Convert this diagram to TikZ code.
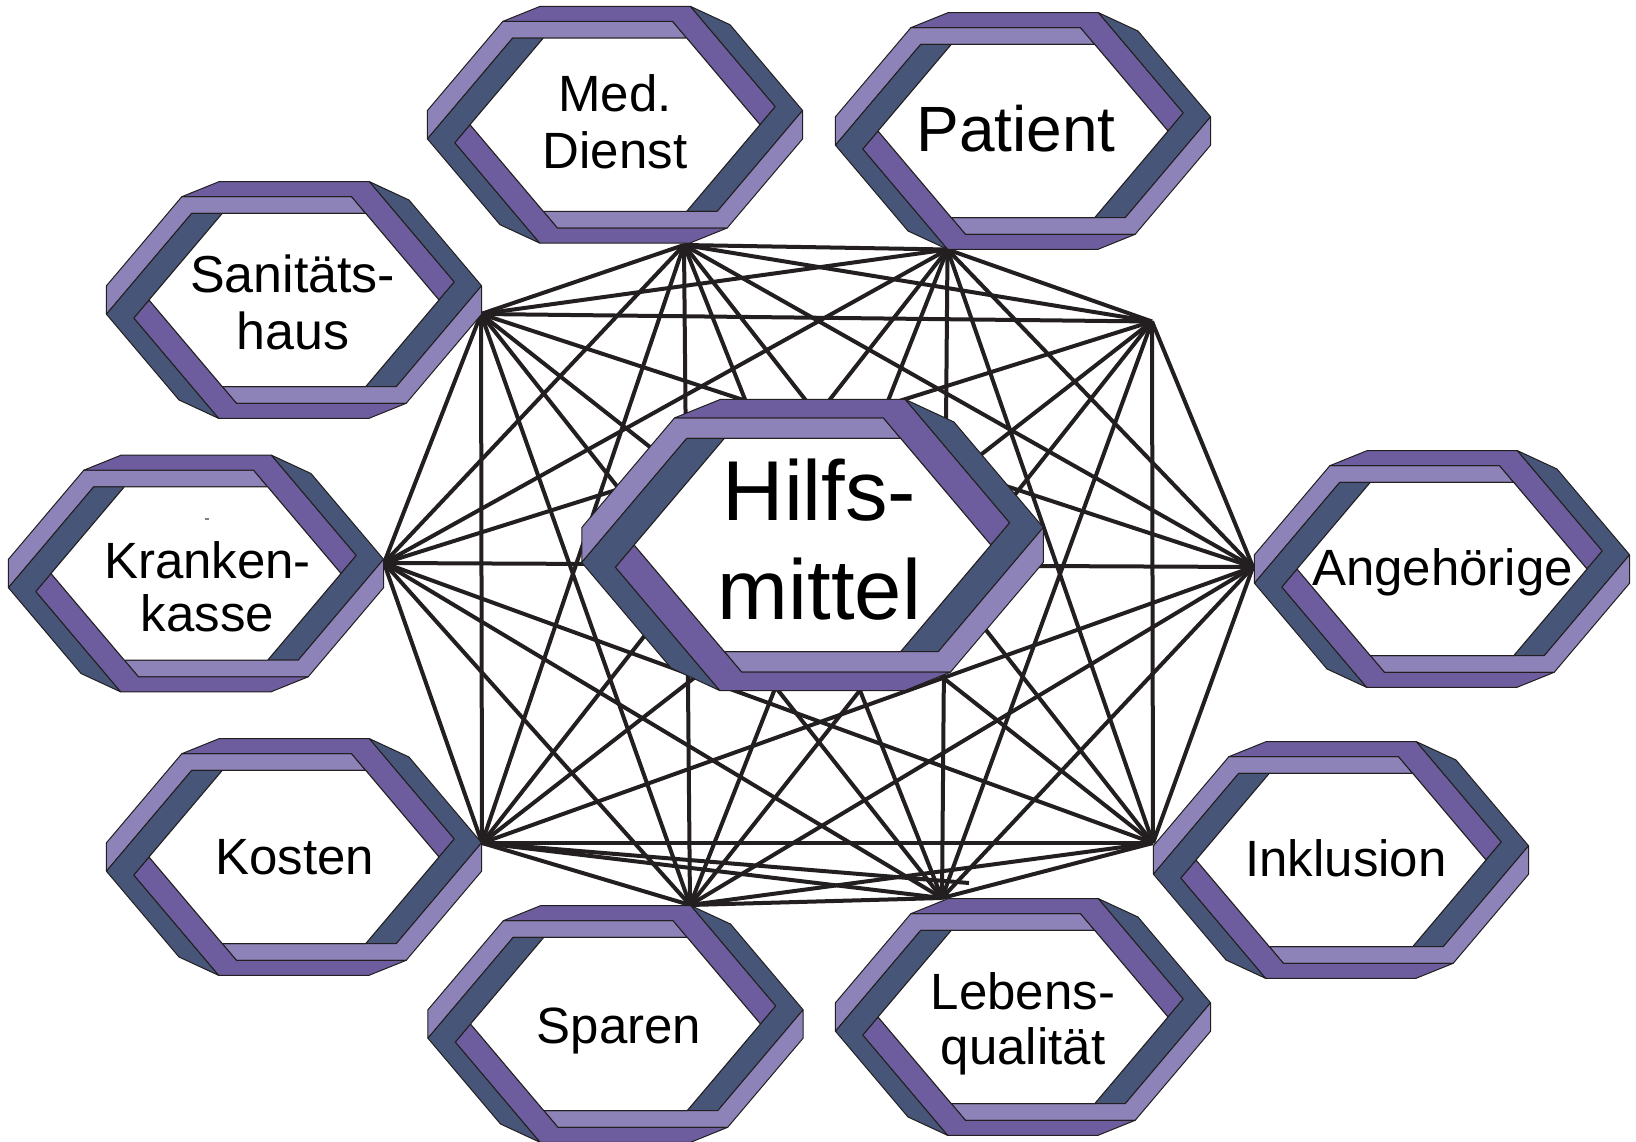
\documentclass[tikz,border=0pt]{standalone}
\usepackage{fontspec}
\setmainfont{Liberation Sans}
\definecolor{lp}{RGB}{142,131,184}
\definecolor{dp}{RGB}{109,93,158}
\definecolor{sl}{RGB}{70,85,120}
\definecolor{ink}{RGB}{35,31,32}
\tikzset{
  band/.style={draw=ink, line width=1pt, line join=round},
  link/.style={draw=ink, line width=4pt},
  lbl/.style={inner sep=0pt, anchor=base, text=black},
}
% impossible hexagonal ring; #1,#2 centre, #3 unit
\newcommand{\hexring}[3]{%
  \begin{scope}[shift={(#1,#2)}, x=#3, y=#3]
    \foreach \r in {0,180}{
      \begin{scope}[rotate=\r]
        \filldraw[band, fill=lp] (-562.8,-42.6) -- (-562.8,42.6) -- (-336.5,310) -- (172.8,310) -- (215,260) -- (-306.8,260) -- cycle;
        \filldraw[band, fill=dp] (-336.5,310) -- (-225,355) -- (226.4,355) -- (480.9,54.2) -- (435,0) -- (172.8,310) -- cycle;
        \filldraw[band, fill=sl] (226.4,355) -- (345,300) -- (562.8,42.6) -- (306.8,-260) -- (215,-260) -- (480.9,54.2) -- cycle;
      \end{scope}
    }
    \filldraw[band, fill=white] (-215,260) -- (215,260) -- (435,0) -- (215,-260) -- (-215,-260) -- (-435,0) -- cycle;
  \end{scope}}
\newcommand{\lbl}[6]{%
  \node[lbl, font=\fontsize{#4}{#5}\selectfont] (#1) at (#2,#3) {\begin{tabular}[b]{@{}c@{}}#6\end{tabular}};}
\begin{document}
\begin{tikzpicture}[x=1pt, y=-1pt]
  \fill[white] (0,0) rectangle (1636,1142);
  \useasboundingbox (0,0) rectangle (1636,1142);
  % junction points of the network
  \coordinate (p1) at (684,245);
  \coordinate (p2) at (947.5,249.5);
  \coordinate (p3) at (1152,321.5);
  \coordinate (p4) at (1253,567);
  \coordinate (p5) at (1153,843);
  \coordinate (p6) at (942,898);
  \coordinate (p7) at (690,905);
  \coordinate (p8) at (482,843);
  \coordinate (p9) at (384,563);
  \coordinate (p10) at (481,314);
  \coordinate (q) at (969,883);
  \foreach \i in {1,...,9}{
    \pgfmathtruncatemacro\k{\i+1}
    \foreach \j in {\k,...,10}{
      \draw[link] (p\i) -- (p\j);
    }
  }
  \draw[link] (p8) -- (q);
  % rings
  \hexring{615}{124.7}{0.3333pt}
  \hexring{1023}{131}{0.3333pt}
  \hexring{294}{300}{0.3333pt}
  \hexring{196}{573.5}{0.3333pt}
  \hexring{1442}{569}{0.3333pt}
  \hexring{294}{857}{0.3333pt}
  \hexring{615.5}{1024}{0.3333pt}
  \hexring{1023}{1017}{0.3333pt}
  \hexring{1341}{860}{0.3333pt}
  \hexring{812.5}{545}{0.41pt}
  \draw[line width=1.2pt, gray] (204.5,519) -- (209,519);
  % labels
  \lbl{md}{615}{168.3}{51}{56.7}{Med.\\Dienst}
  \lbl{pat}{1016}{151.3}{64}{70}{Patient}
  \lbl{san}{292.7}{349.5}{52}{57}{Sanitäts-\\haus}
  \lbl{kk}{207.5}{631.5}{51}{52.4}{Kranken-\\kasse}
  \lbl{ang}{1442.5}{585}{51}{56}{Angehörige}
  \lbl{kos}{294.8}{874.4}{51}{56}{Kosten}
  \lbl{spa}{619}{1043.4}{51}{56}{Sparen}
  \lbl{leb}{1023}{1064}{51}{55}{Lebens-\\qualität}
  \lbl{ink}{1346}{876.5}{51}{56}{Inklusion}
  \lbl{hm}{819.5}{619.3}{85}{99.3}{Hilfs-\\mittel}
\end{tikzpicture}
\end{document}
